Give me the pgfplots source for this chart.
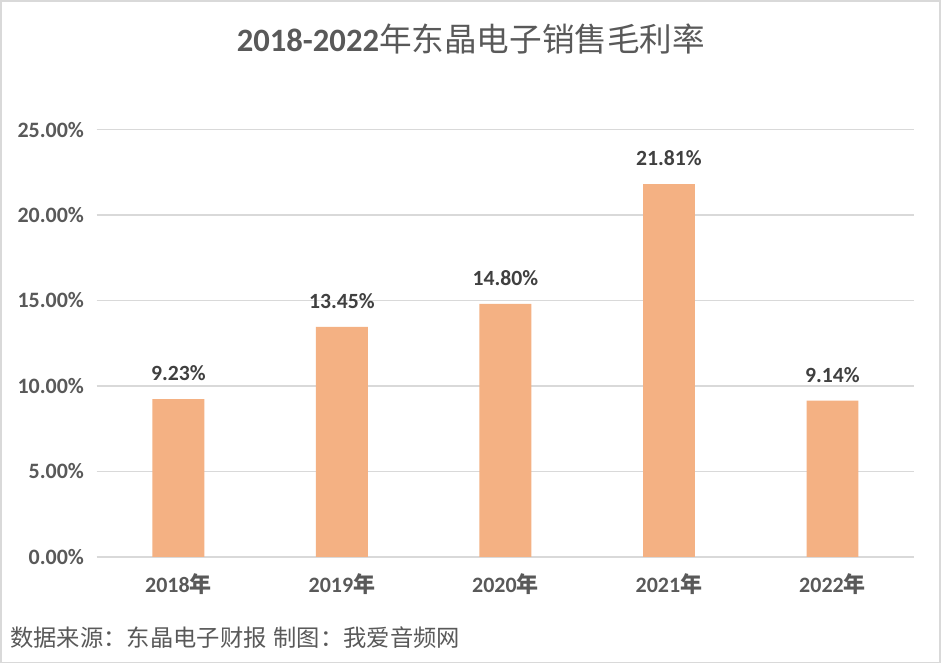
\documentclass[border=0pt]{standalone}
\usepackage{pgfplots}
\pgfplotsset{compat=1.18}
\usepackage{fontspec}
\setmainfont{Carlito}
\newfontfamily\cjk{Noto Sans CJK SC}
\definecolor{barc}{HTML}{F4B183}
\definecolor{gridc}{HTML}{D9D9D9}
\definecolor{txt}{HTML}{595959}
\definecolor{lbl}{HTML}{404040}
\begin{document}
\begin{tikzpicture}
\draw[gridc,line width=1.2pt,fill=white] (0,0) rectangle (705.75pt,497.25pt);
\useasboundingbox (0,0) rectangle (705.75pt,497.25pt);
\node[txt,font=\fontsize{24.5}{28}\selectfont] at (353.25pt,468.75pt) {\textbf{2018-2022}{\cjk 年东晶电子销售毛利率}};
\node[txt,anchor=west,inner sep=0pt,font=\fontsize{17.5}{20}\selectfont\cjk] at (7pt,18.75pt) {数据来源：东晶电子财报\hspace{0.3em}制图：我爱音频网};
\begin{axis}[
  at={(72pt,79.5pt)}, anchor=south west,
  scale only axis, width=614.25pt, height=321pt,
  xmin=-0.5, xmax=4.5, ymin=0, ymax=25,
  axis line style={draw=none}, tick style={draw=none},
  ymajorgrids, major grid style={gridc,line width=1pt},
  ytick={0,5,10,15,20,25},
  yticklabels={0.00\%,5.00\%,10.00\%,15.00\%,20.00\%,25.00\%},
  yticklabel style={font=\fontsize{16.5}{18}\selectfont\bfseries,text=txt,xshift=-6pt},
  xtick=data,
  xticklabels={2018{\cjk 年},2019{\cjk 年},2020{\cjk 年},2021{\cjk 年},2022{\cjk 年}},
  xticklabel style={font=\fontsize{16.5}{18}\selectfont\bfseries,text=txt,yshift=-5pt},
  ybar, bar width=39pt,
  /pgf/number format/assume math mode=true,
  nodes near coords={\pgfmathprintnumber[fixed,fixed zerofill,precision=2,assume math mode=true]{\pgfplotspointmeta}\%},
  nodes near coords style={font=\fontsize{16.3}{18}\selectfont\bfseries,text=lbl,yshift=10pt},
]
\addplot[fill=barc,draw=none] coordinates {(0,9.23) (1,13.45) (2,14.80) (3,21.81) (4,9.14)};
\end{axis}
\end{tikzpicture}
\end{document}
